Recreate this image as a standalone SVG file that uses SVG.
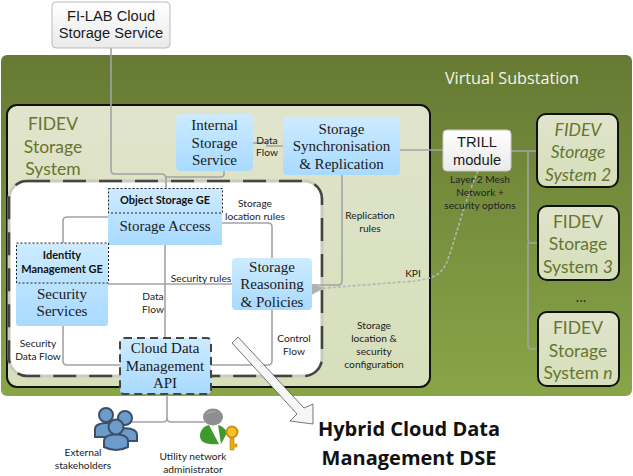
<svg xmlns="http://www.w3.org/2000/svg" width="633" height="476" viewBox="0 0 633 476">
<style>
.s{font-family:"Liberation Serif",serif;fill:#1a1a1a;font-size:15px;text-anchor:middle}
.c{font-family:Lato,"Open Sans",sans-serif;fill:#222;font-size:10.2px;text-anchor:middle}
.b{font-weight:700;font-size:11px;fill:#111}
.f{font-family:Lato,"Open Sans",sans-serif;fill:#66752f;font-size:17.5px;text-anchor:middle}
.a{font-family:"Liberation Sans",sans-serif;fill:#1a1a1a;font-size:14.7px;text-anchor:middle}
.blue{fill:url(#bl)}
.dash{fill:none;stroke:#222;stroke-width:1;stroke-dasharray:2 2}
.sys{fill:url(#sy);stroke:#111;stroke-width:2}
.ln{fill:none;stroke:#a3a3a3;stroke-width:1.6}
</style>
<defs>
<linearGradient id="gr" x1="0" y1="0" x2="0" y2="1"><stop offset="0" stop-color="#667a33"/><stop offset="1" stop-color="#88a548"/></linearGradient>
<linearGradient id="bl" x1="0" y1="0" x2="0" y2="1"><stop offset="0" stop-color="#cdebff"/><stop offset="1" stop-color="#a8daff"/></linearGradient>
<linearGradient id="sy" x1="0" y1="0" x2="0" y2="1"><stop offset="0" stop-color="#e0e4cc"/><stop offset="1" stop-color="#d6dfba"/></linearGradient>
<linearGradient id="wh" x1="0" y1="0" x2="0" y2="1"><stop offset="0" stop-color="#fff"/><stop offset="1" stop-color="#eaeaea"/></linearGradient>
<marker id="kpi" markerWidth="8" markerHeight="8" refX="7" refY="4" orient="auto"><path d="M8 0.5L0 4L8 7.5z" fill="#b0b0b0"/></marker>
</defs>
<rect x="1" y="55" width="631" height="341" rx="6" fill="url(#gr)"/>
<text x="512" y="84" font-family="'Open Sans',Lato,sans-serif" font-size="16.200" fill="#f4f6ec" text-anchor="middle">Virtual Substation</text>
<g id="fidev-system">
<rect class="sys" x="7" y="105" width="423" height="282" rx="10"/>
<text class="f" font-size="19"><tspan x="53" y="130">FIDEV</tspan><tspan x="53" y="152.500">Storage</tspan><tspan x="53" y="175">System</tspan></text>
</g>
<g id="dashed-zone">
<rect x="9" y="181" width="313" height="195" rx="18" fill="#fff" stroke="#c9ccbb" stroke-width="3"/>
<rect x="9" y="181" width="313" height="195" rx="18" fill="none" stroke="#444" stroke-width="2.500" stroke-dasharray="23 13"/>
</g>
<g id="connectors">
<path class="ln" d="M111 48V170Q111 174 115 174H161Q166 174 166 179V188"/>
<path class="ln" d="M224 171V174Q224 177 221 177H166"/>
<path class="ln" d="M253 143H267V146H283"/>
<path class="ln" d="M400 150H443"/>
<path class="ln" d="M511 151H537"/>
<path class="ln" d="M528 151V240Q528 243 531 243H538"/>
<path class="ln" d="M528 243V345Q528 349 532 349H538"/>
<path class="ln" d="M342 175V281Q342 285 338 285H312"/>
<path class="ln" d="M108 217H67Q63 217 63 221V243"/>
<path class="ln" d="M63 326V361Q63 365 67 365H120"/>
<path class="ln" d="M222 223H268Q272 223 272 227V258"/>
<path class="ln" d="M272 310V361Q272 365 268 365H211"/>
<path class="ln" d="M165 245V338"/>
<path class="ln" d="M108 284H232"/>
<path class="ln" d="M167 394V418Q167 422 163 422H130"/>
<path class="ln" d="M167 418Q167 422 171 422H205"/>
<path fill="none" stroke="#b4b4b4" stroke-width="1.600" stroke-dasharray="3 2" marker-end="url(#kpi)" d="M478 171C465 200 455 240 447 262C441 276 430 279 415 281L313 289"/>
</g>
<g id="fi-lab">
<rect x="52" y="2" width="118" height="46" rx="4" fill="url(#wh)" stroke="#bbb"/>
<text class="a"><tspan x="111" y="20.500">FI-LAB Cloud</tspan><tspan x="111" y="38">Storage Service</tspan></text>
</g>
<g id="internal-storage">
<rect class="blue" x="176" y="114" width="77" height="57" rx="5"/>
<text class="s"><tspan x="214.500" y="130">Internal</tspan><tspan x="214.500" y="148">Storage</tspan><tspan x="214.500" y="165">Service</tspan></text>
</g>
<g id="sync-replication">
<rect class="blue" x="283" y="117" width="117" height="58" rx="4"/>
<text class="s"><tspan x="341.500" y="134">Storage</tspan><tspan x="341.500" y="151">Synchronisation</tspan><tspan x="341.500" y="169">&amp; Replication</tspan></text>
</g>
<g id="storage-access">
<rect class="blue" x="108" y="188" width="114" height="57"/>
<rect class="dash" x="108.500" y="188.500" width="114" height="24.500"/>
<text class="c b" x="165" y="204">Object Storage GE</text>
<text class="s" x="165" y="231">Storage Access</text>
</g>
<g id="security-services">
<rect class="blue" x="16" y="243" width="92" height="83" rx="3"/>
<rect class="dash" x="16.500" y="243" width="92" height="40"/>
<text class="c b"><tspan x="62" y="259">Identity</tspan><tspan x="62" y="273">Management GE</tspan></text>
<text class="s"><tspan x="62" y="299">Security</tspan><tspan x="62" y="316">Services</tspan></text>
</g>
<g id="reasoning">
<rect class="blue" x="232" y="258" width="80" height="52" rx="4"/>
<text class="s"><tspan x="272" y="272">Storage</tspan><tspan x="272" y="289">Reasoning</tspan><tspan x="272" y="307">&amp; Policies</tspan></text>
</g>
<g id="api">
<rect class="blue" x="120" y="338" width="91" height="56" rx="4" stroke="#444" stroke-width="2" stroke-dasharray="8 5"/>
<text class="s"><tspan x="165" y="353">Cloud Data</tspan><tspan x="165" y="371">Management</tspan><tspan x="165" y="388">API</tspan></text>
</g>
<g id="trill">
<rect x="443" y="130" width="68" height="41" rx="4" fill="url(#wh)" stroke="#ccc"/>
<text class="a"><tspan x="477" y="147">TRILL</tspan><tspan x="477" y="164.500">module</tspan></text>
</g>
<g id="fidev-2">
<rect class="sys" x="537" y="114" width="81" height="73" rx="9"/>
<text class="f" font-style="italic"><tspan x="578" y="136">FIDEV</tspan><tspan x="578" y="158">Storage</tspan><tspan x="578" y="181">System 2</tspan></text>
</g>
<g id="fidev-3">
<rect class="sys" x="538" y="206" width="81" height="74" rx="9"/>
<text class="f"><tspan x="578" y="228">FIDEV</tspan><tspan x="578" y="250">Storage</tspan><tspan x="578" y="273">System <tspan font-style="italic">3</tspan></tspan></text>
</g>
<g id="fidev-n">
<rect class="sys" x="538" y="312" width="81" height="74" rx="9"/>
<text class="f"><tspan x="578" y="334">FIDEV</tspan><tspan x="578" y="357">Storage</tspan><tspan x="578" y="379">System <tspan font-style="italic">n</tspan></tspan></text>
</g>
<text x="581" y="302" font-family="'Open Sans',sans-serif" font-size="14" fill="#222" text-anchor="middle">...</text>
<g id="labels">
<text class="c"><tspan x="267" y="144">Data</tspan><tspan x="267" y="156">Flow</tspan></text>
<text class="c"><tspan x="255" y="207">Storage</tspan><tspan x="255" y="220">location rules</tspan></text>
<text class="c"><tspan x="370" y="219">Replication</tspan><tspan x="370" y="232">rules</tspan></text>
<text class="c"><tspan x="480" y="183">Layer 2 Mesh</tspan><tspan x="480" y="196">Network +</tspan><tspan x="480" y="209">security options</tspan></text>
<text class="c" x="413" y="277">KPI</text>
<text class="c" x="201" y="282">Security rules</text>
<text class="c"><tspan x="153" y="300">Data</tspan><tspan x="153" y="313">Flow</tspan></text>
<text class="c"><tspan x="38" y="347">Security</tspan><tspan x="38" y="360">Data Flow</tspan></text>
<text class="c"><tspan x="294" y="342">Control</tspan><tspan x="294" y="355">Flow</tspan></text>
<text class="c"><tspan x="374" y="329">Storage</tspan><tspan x="374" y="342">location &amp;</tspan><tspan x="374" y="355">security</tspan><tspan x="374" y="368">configuration</tspan></text>
<text class="c"><tspan x="83" y="456">External</tspan><tspan x="83" y="469">stakeholders</tspan></text>
<text class="c"><tspan x="193" y="460">Utility network</tspan><tspan x="193" y="473">administrator</tspan></text>
</g>
<g id="big-arrow">
<polygon points="232,343 238,337 304,408 313,404 313,424 290,421 297,414" fill="#f6f6f6" stroke="#555" stroke-width="0.8"/>
</g>
<text font-family="'Open Sans',sans-serif" font-weight="700" font-size="20" fill="#111" text-anchor="middle"><tspan x="409" y="436">Hybrid Cloud Data</tspan><tspan x="409" y="465">Management DSE</tspan></text>
<g id="stakeholders" fill="#6c9ccb" stroke="#3c4f68" stroke-width="2">
<circle cx="106" cy="415" r="7"/><path d="M95 437V429C95 421 117 421 117 429V437z"/>
<circle cx="125" cy="418" r="7"/><path d="M115 441V435C115 426 137 426 137 435V441z"/>
<path d="M104 447V441C104 432 128 432 128 441V447Q116 453 104 447z"/><circle cx="116" cy="427" r="7.500"/>
</g>
<g id="admin">
<path d="M200 436C200 430 204 426 209 425L219 444C208 445 200 443 200 436z" fill="#3f9a2e"/>
<path d="M218 425C222 426 226 429 227 433L221 444z" fill="#3f9a2e"/>
<ellipse cx="213" cy="417" rx="10" ry="8.500" fill="#8e8e8e"/>
<path d="M204 416C208 412 220 410 222 414C218 410 208 410 204 416z" fill="#bbb"/>
<path d="M230 437V450H234V447H237V444H234V437z" fill="#e8a917" stroke="#a87410" stroke-width="0.500"/>
<circle cx="232" cy="432" r="5.500" fill="#f9c326" stroke="#c8901a" stroke-width="2"/>
</g>
</svg>
